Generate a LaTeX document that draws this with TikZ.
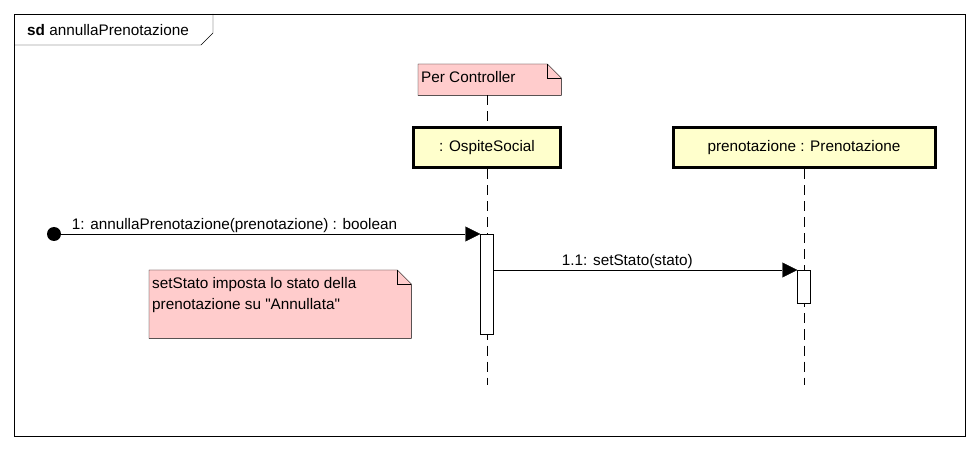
\documentclass[tikz,border=0pt]{standalone}
\usepackage{fontspec}
\setmainfont{Liberation Sans}
\usetikzlibrary{arrows.meta}
\usetikzlibrary{backgrounds}
\usetikzlibrary{positioning}

\definecolor{notepink}{RGB}{255,204,204}
\definecolor{headyellow}{RGB}{255,255,204}

\tikzset{
  lifehead/.style={rectangle,draw,line width=3pt,fill=headyellow,minimum width=147,minimum height=40,inner sep=0pt,font=\fontsize{15.3}{18}\selectfont},
  lifeline/.style={dash pattern=on 10pt off 6pt,thin},
  activation/.style={rectangle,draw,fill=white,minimum width=13,inner sep=0pt,anchor=north},
  notebox/.style={rectangle,draw=none,inner sep=0pt,anchor=north west},
  notetext/.style={inner xsep=3pt,inner ysep=7pt,anchor=north west,align=left,font=\fontsize{15.3}{21}\selectfont},
  msg/.style={-{Triangle[length=15pt,width=15pt]}},
  msglabel/.style={inner sep=1.5pt,anchor=south,font=\fontsize{15.3}{18}\selectfont}
}

% dog-eared note outline round a named node
\newcommand{\dognote}[1]{%
  \draw[fill=notepink] (#1.south west) -- (#1.north west) -- ([xshift=-14pt]#1.north east)
    -- ([yshift=-14pt]#1.north east) -- (#1.south east) -- cycle;
  \draw ([xshift=-14pt]#1.north east) |- ([yshift=-14pt]#1.north east);}

\begin{document}
\begin{tikzpicture}[x=1pt,y=-1pt]
\useasboundingbox (0,0) rectangle (978,449);

% frame
\draw (14,14) rectangle (965,436);
\draw (14,45) -- (201,45) -- (213,33) -- (213,14);
\node[anchor=west,inner sep=0pt,font=\fontsize{15.3}{18}\selectfont] (sdname) at (27,30) {\textbf{sd} annullaPrenotazione};

% notes
\node[notebox,minimum width=143,minimum height=31] (pcnote) at (418,64) {};
\node[notebox,minimum width=262,minimum height=68] (stnote) at (149,270) {};
\begin{scope}[on background layer]
\fill[white] (0,0) rectangle (978,449);
\dognote{pcnote}
\dognote{stnote}
\end{scope}
\node[notetext] (pctext) at (pcnote.north west) {Per Controller};
\node[notetext] (sttext) at (stnote.north west) {setStato imposta lo stato della\\prenotazione su \textquotedbl Annullata\textquotedbl};

% lifelines
\node[lifehead] (os) at (487,148) {: OspiteSocial};
\node[lifehead,minimum width=262] (pr) at (804,148) {prenotazione : Prenotazione};
\coordinate (osend) at (487,385);
\coordinate (prend) at (804,385);
\draw[lifeline] (pcnote.south -| os) -- (os.north);
\draw[lifeline] (os.south) -- (osend);
\draw[lifeline] (pr.south) -- (prend);

% activations
\node[activation,minimum height=100] (osact) at (487,234) {};
\node[activation,minimum height=33] (pract) at (804,270) {};

% messages
\node[circle,fill=black,minimum size=14,inner sep=0pt] (start) at (54,234) {};
\draw[msg] (start) -- (osact.north west)
  node[msglabel,pos=0,anchor=south west,xshift=9pt] {1: annullaPrenotazione(prenotazione) : boolean};
\draw[msg] (osact.east |- pract.north) -- (pract.north west)
  node[msglabel,pos=0.44] {1.1: setStato(stato)};

\end{tikzpicture}
\end{document}
